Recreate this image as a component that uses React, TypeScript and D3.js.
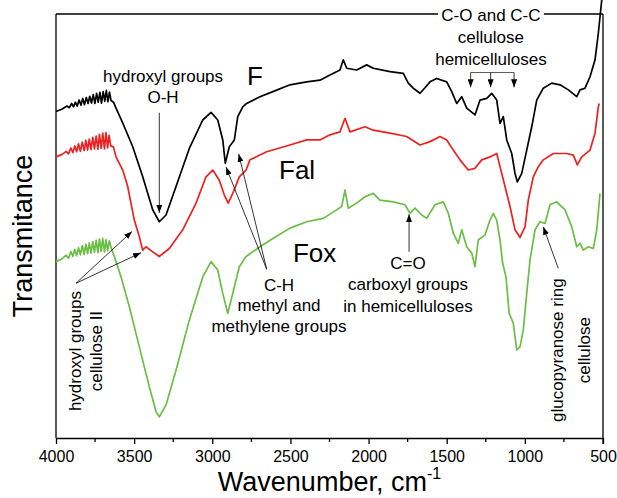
import React, { useEffect, useRef } from "react";
import * as d3 from "d3";

const W = 617;
const H = 498;
const plot = { left: 56, right: 603, top: 14, bottom: 438 };
const FONT = "Arial, 'Liberation Sans', sans-serif";

// spectra: [wavenumber cm-1, transmittance a.u.]
const specF: [number, number][] = [
  [4000, 77.0], [3960, 77.6], [3930, 78.3], [3915, 77.9], [3900, 78.9], [3888, 78.1],
  [3876, 79.2], [3864, 78.3], [3852, 79.7], [3840, 78.5], [3829, 80.1], [3818, 78.6],
  [3806, 80.3], [3795, 78.9], [3784, 80.6], [3773, 79.0], [3762, 81.0], [3751, 78.9],
  [3740, 81.3], [3730, 79.2], [3719, 81.5], [3709, 79.0], [3698, 81.7], [3688, 79.4],
  [3678, 82.0], [3668, 79.3], [3658, 81.6], [3648, 79.6], [3632, 79.2], [3616, 77.8],
  [3573, 74.3], [3509, 68.7], [3445, 61.6], [3381, 53.8], [3339, 51.0], [3296, 52.6],
  [3232, 59.3], [3147, 68.3], [3061, 75.0], [3008, 76.8], [2965, 75.0], [2933, 70.3],
  [2917, 64.8], [2891, 68.7], [2859, 70.3], [2837, 75.8], [2805, 78.1], [2780, 78.9],
  [2695, 80.5], [2612, 81.7], [2503, 83.3], [2396, 84.0], [2311, 84.4], [2247, 85.6],
  [2183, 86.8], [2162, 89.2], [2140, 87.2], [2076, 86.8], [2012, 88.0], [1970, 87.2],
  [1863, 86.4], [1778, 86.0], [1746, 83.7], [1714, 82.5], [1671, 81.3], [1639, 82.6],
  [1607, 84.0], [1564, 84.8], [1500, 84.0], [1468, 81.7], [1436, 78.9], [1404, 80.5],
  [1372, 77.8], [1319, 76.2], [1287, 79.7], [1244, 80.1], [1212, 81.3], [1180, 79.7],
  [1159, 74.2], [1138, 75.8], [1116, 70.3], [1084, 67.1], [1063, 62.4], [1048, 60.4],
  [1020, 62.4], [988, 67.9], [956, 73.4], [924, 79.7], [882, 82.5], [828, 83.7],
  [775, 83.3], [722, 82.1], [668, 80.5], [647, 82.1], [615, 82.5], [583, 85.2],
  [551, 89.2], [530, 95.4], [508, 103.3],
];

const specFal: [number, number][] = [
  [4000, 66.3], [3960, 66.9], [3935, 67.6], [3920, 67.0], [3905, 68.4], [3892, 67.3],
  [3880, 68.9], [3868, 67.5], [3856, 69.4], [3844, 67.6], [3832, 69.8], [3820, 67.8],
  [3809, 70.2], [3798, 67.9], [3787, 70.5], [3776, 68.0], [3765, 70.9], [3754, 68.2],
  [3743, 71.2], [3732, 68.1], [3722, 71.6], [3711, 68.3], [3701, 71.9], [3690, 68.2],
  [3680, 72.0], [3670, 68.4], [3660, 71.4], [3650, 68.9], [3632, 68.6], [3616, 66.3],
  [3573, 63.2], [3541, 59.3], [3499, 51.4], [3467, 47.5], [3445, 44.3], [3424, 45.1],
  [3381, 43.9], [3339, 42.8], [3275, 44.7], [3189, 49.1], [3104, 55.4], [3040, 61.6],
  [2997, 63.2], [2955, 60.8], [2923, 57.3], [2898, 55.4], [2869, 57.7], [2827, 61.6],
  [2784, 63.2], [2759, 65.6], [2652, 67.5], [2503, 69.1], [2396, 70.3], [2311, 70.3],
  [2247, 71.5], [2183, 72.2], [2151, 75.4], [2119, 72.2], [2023, 73.4], [1970, 72.6],
  [1863, 71.9], [1756, 71.1], [1671, 69.1], [1607, 69.9], [1543, 71.1], [1500, 70.3],
  [1458, 67.9], [1415, 65.6], [1362, 63.2], [1319, 63.6], [1276, 65.6], [1223, 66.3],
  [1180, 67.1], [1159, 64.0], [1127, 59.3], [1095, 54.6], [1063, 49.1], [1031, 47.3],
  [999, 49.8], [978, 56.1], [946, 61.6], [914, 64.0], [882, 65.6], [818, 67.1],
  [732, 67.1], [690, 66.7], [664, 64.4], [636, 66.3], [583, 67.9], [551, 71.9],
  [530, 78.1], [524, 78.9],
];

const specFox: [number, number][] = [
  [4000, 41.6], [3960, 42.3], [3935, 43.1], [3920, 42.4], [3905, 44.0], [3892, 42.8],
  [3880, 44.5], [3868, 43.0], [3856, 44.9], [3844, 43.2], [3832, 45.4], [3820, 43.3],
  [3809, 45.7], [3798, 43.5], [3787, 46.0], [3776, 43.6], [3765, 46.3], [3754, 43.8],
  [3743, 46.6], [3732, 43.7], [3722, 46.9], [3711, 44.0], [3701, 47.1], [3690, 43.9],
  [3680, 46.8], [3670, 44.2], [3659, 46.5], [3645, 44.6], [3627, 42.8], [3584, 38.0],
  [3531, 31.0], [3467, 21.5], [3403, 12.1], [3360, 6.2], [3339, 5.0], [3296, 7.8],
  [3232, 16.0], [3147, 27.8], [3061, 38.0], [3008, 41.6], [2965, 39.6], [2933, 34.1],
  [2901, 29.4], [2869, 34.1], [2827, 40.4], [2784, 42.8], [2695, 45.1], [2610, 47.1],
  [2503, 49.5], [2396, 51.0], [2290, 51.8], [2204, 53.8], [2172, 54.6], [2151, 58.5],
  [2130, 54.2], [2076, 55.4], [2023, 56.9], [1970, 57.7], [1927, 56.1], [1842, 55.7],
  [1767, 55.0], [1735, 53.0], [1703, 54.2], [1660, 52.6], [1628, 51.8], [1575, 55.0],
  [1522, 55.7], [1490, 53.0], [1458, 48.3], [1426, 45.9], [1404, 49.1], [1372, 45.1],
  [1340, 43.6], [1319, 40.4], [1298, 46.7], [1255, 47.9], [1223, 51.4], [1202, 53.0],
  [1180, 51.4], [1159, 46.7], [1142, 41.2], [1121, 38.0], [1100, 29.4], [1074, 27.1],
  [1052, 20.8], [1031, 21.5], [1010, 25.5], [988, 34.1], [967, 42.0], [935, 49.1],
  [903, 51.0], [871, 50.6], [839, 55.0], [796, 55.7], [743, 53.8], [700, 49.8],
  [668, 45.1], [647, 45.9], [626, 44.3], [594, 45.1], [562, 44.7], [540, 49.1],
  [519, 57.7],
];

const seriesNames = ["F", "Fal", "Fox"];
const seriesColors = ["#000000", "#ee2121", "#6cbd45"];
const seriesData = [specF, specFal, specFox];
// label anchor for each spectrum [wavenumber, transmittance]
const seriesLabelPos: [number, number][] = [[2778, 83.3], [2573, 61.0], [2484, 41.6]];

const majorTicks = [4000, 3500, 3000, 2500, 2000, 1500, 1000, 500];
const minorTicks = [3750, 3250, 2750, 2250, 1750, 1250, 750];

const x = d3.scaleLinear().domain([4000, 500]).range([plot.left, plot.right]);
const y = d3.scaleLinear().domain([0, 100]).range([plot.bottom, plot.top]);

const line = d3
  .line<[number, number]>()
  .x((d) => x(d[0]))
  .y((d) => y(d[1]));

type Arrow = { from: [number, number]; to: [number, number] };

const arrows: Arrow[] = [
  { from: [3339, 76.7], to: [3339, 53.1] }, // O-H
  { from: [2652, 39.8], to: [2912, 63.9] }, // C-H
  { from: [2652, 39.8], to: [2831, 67.0] },
  { from: [3872, 36.5], to: [3514, 48.7] }, // cellulose II
  { from: [3872, 36.5], to: [3456, 43.7] },
  { from: [1741, 43.9], to: [1741, 52.8] }, // C=O
  { from: [786, 40.0], to: [882, 49.8] }, // glucopyranose
  { from: [1347, 86.2], to: [1347, 82.7] }, // C-O / C-C bracket
  { from: [1219, 86.2], to: [1219, 82.7] },
  { from: [1069, 86.2], to: [1069, 82.7] },
];

type Label = { lines: string[]; at: [number, number]; rotate?: boolean; step: number };

// at = [wavenumber of centre, transmittance of first baseline]; step in a.u. (or cm-1 when rotated)
const labels: Label[] = [
  { lines: ["hydroxyl groups", "O-H"], at: [3315, 84.0], step: -5.0 },
  { lines: ["C-H", "methyl and", "methylene groups"], at: [2573, 34.7], step: -4.8 },
  { lines: ["C=O", "carboxyl groups", "in hemicelluloses"], at: [1748, 39.8], step: -5.0 },
  { lines: ["cellulose", "hemicelluloses"], at: [1217, 93.2], step: -5.2 },
  { lines: ["hydroxyl groups", "cellulose II"], at: [3840, 20.5], rotate: true, step: -134 },
  { lines: ["glucopyranose ring", "cellulose"], at: [756, 20.7], rotate: true, step: -173 },
];

const topLabel = { text: "C-O and C-C", at: [1217, 98.3] as [number, number] };

export default function App() {
  const axisRef = useRef<SVGGElement>(null);

  useEffect(() => {
    const g = d3.select(axisRef.current);
    g.selectAll("*").remove();
    g.call(
      d3.axisBottom(x).tickValues(majorTicks).tickSize(6).tickSizeOuter(0).tickFormat(d3.format("d"))
    );
    g.select(".domain").attr("stroke", "#000").attr("stroke-width", 1.3);
    g.selectAll(".tick line").attr("stroke-width", 1.3);
    g.selectAll(".tick text")
      .attr("font-family", FONT)
      .attr("font-size", 16)
      .attr("fill", "#000")
      .attr("y", 8)
      .attr("dy", "1em");
    g.selectAll(".minor")
      .data(minorTicks)
      .join("line")
      .attr("class", "minor")
      .attr("x1", (d) => x(d))
      .attr("x2", (d) => x(d))
      .attr("y1", 0)
      .attr("y2", 4)
      .attr("stroke", "#000")
      .attr("stroke-width", 1.3);
  }, []);

  const topX = x(topLabel.at[0]);
  const topY = y(topLabel.at[1]);

  return (
    <svg
      width={W}
      height={H}
      style={{ position: "absolute", left: 0, top: 0, background: "#fff" }}
      fontFamily={FONT}
    >
      <defs>
        <marker
          id="arr"
          viewBox="0 0 8 6"
          refX="8"
          refY="3"
          markerWidth="8"
          markerHeight="6"
          markerUnits="userSpaceOnUse"
          orient="auto"
        >
          <path d="M0,0 L8,3 L0,6 z" fill="#000" />
        </marker>
      </defs>

      {/* frame */}
      <line x1={plot.left} x2={plot.left} y1={plot.top} y2={plot.bottom} stroke="#000" strokeWidth={1.3} />
      <line x1={plot.right} x2={plot.right} y1={plot.top} y2={plot.bottom + 6} stroke="#000" strokeWidth={1.3} />
      <line x1={plot.left} x2={plot.right} y1={plot.top} y2={plot.top} stroke="#000" strokeWidth={1.3} />
      <g ref={axisRef} transform={`translate(0,${plot.bottom})`} />

      {/* spectra */}
      {seriesData.map((s, i) => (
        <path key={seriesNames[i]} d={line(s) || ""} fill="none" stroke={seriesColors[i]} strokeWidth={1.7} strokeLinejoin="round" />
      ))}
      {seriesNames.map((n, i) => (
        <text key={n} x={x(seriesLabelPos[i][0])} y={y(seriesLabelPos[i][1])} fontSize={26}>
          {n}
        </text>
      ))}

      {/* bracket for C-O / C-C */}
      <line x1={x(1347)} x2={x(1069)} y1={y(86.2)} y2={y(86.2)} stroke="#333" strokeWidth={0.8} />

      {arrows.map((a, i) => (
        <line
          key={i}
          x1={x(a.from[0])}
          y1={y(a.from[1])}
          x2={x(a.to[0])}
          y2={y(a.to[1])}
          stroke="#000"
          strokeWidth={0.8}
          markerEnd="url(#arr)"
        />
      ))}

      {/* top label breaking the frame */}
      <rect x={topX - 53} y={topY - 16} width={106} height={20} fill="#fff" />
      <text x={topX} y={topY} fontSize={17} textAnchor="middle">
        {topLabel.text}
      </text>

      {labels.map((l, i) =>
        l.lines.map((t, j) =>
          l.rotate ? (
            <text
              key={`${i}-${j}`}
              fontSize={17}
              textAnchor="middle"
              transform={`translate(${x(l.at[0] + l.step * j)},${y(l.at[1])}) rotate(-90)`}
            >
              {t}
            </text>
          ) : (
            <text key={`${i}-${j}`} x={x(l.at[0])} y={y(l.at[1] + l.step * j)} fontSize={17} textAnchor="middle">
              {t}
            </text>
          )
        )
      )}

      {/* axis titles */}
      <text x={(plot.left + plot.right) / 2} y={491} fontSize={27} textAnchor="middle">
        Wavenumber, cm
        <tspan fontSize={16} dy={-12}>
          -1
        </tspan>
      </text>
      <text transform={`translate(32,236) rotate(-90)`} fontSize={27} textAnchor="middle">
        Transmitance
      </text>
    </svg>
  );
}
